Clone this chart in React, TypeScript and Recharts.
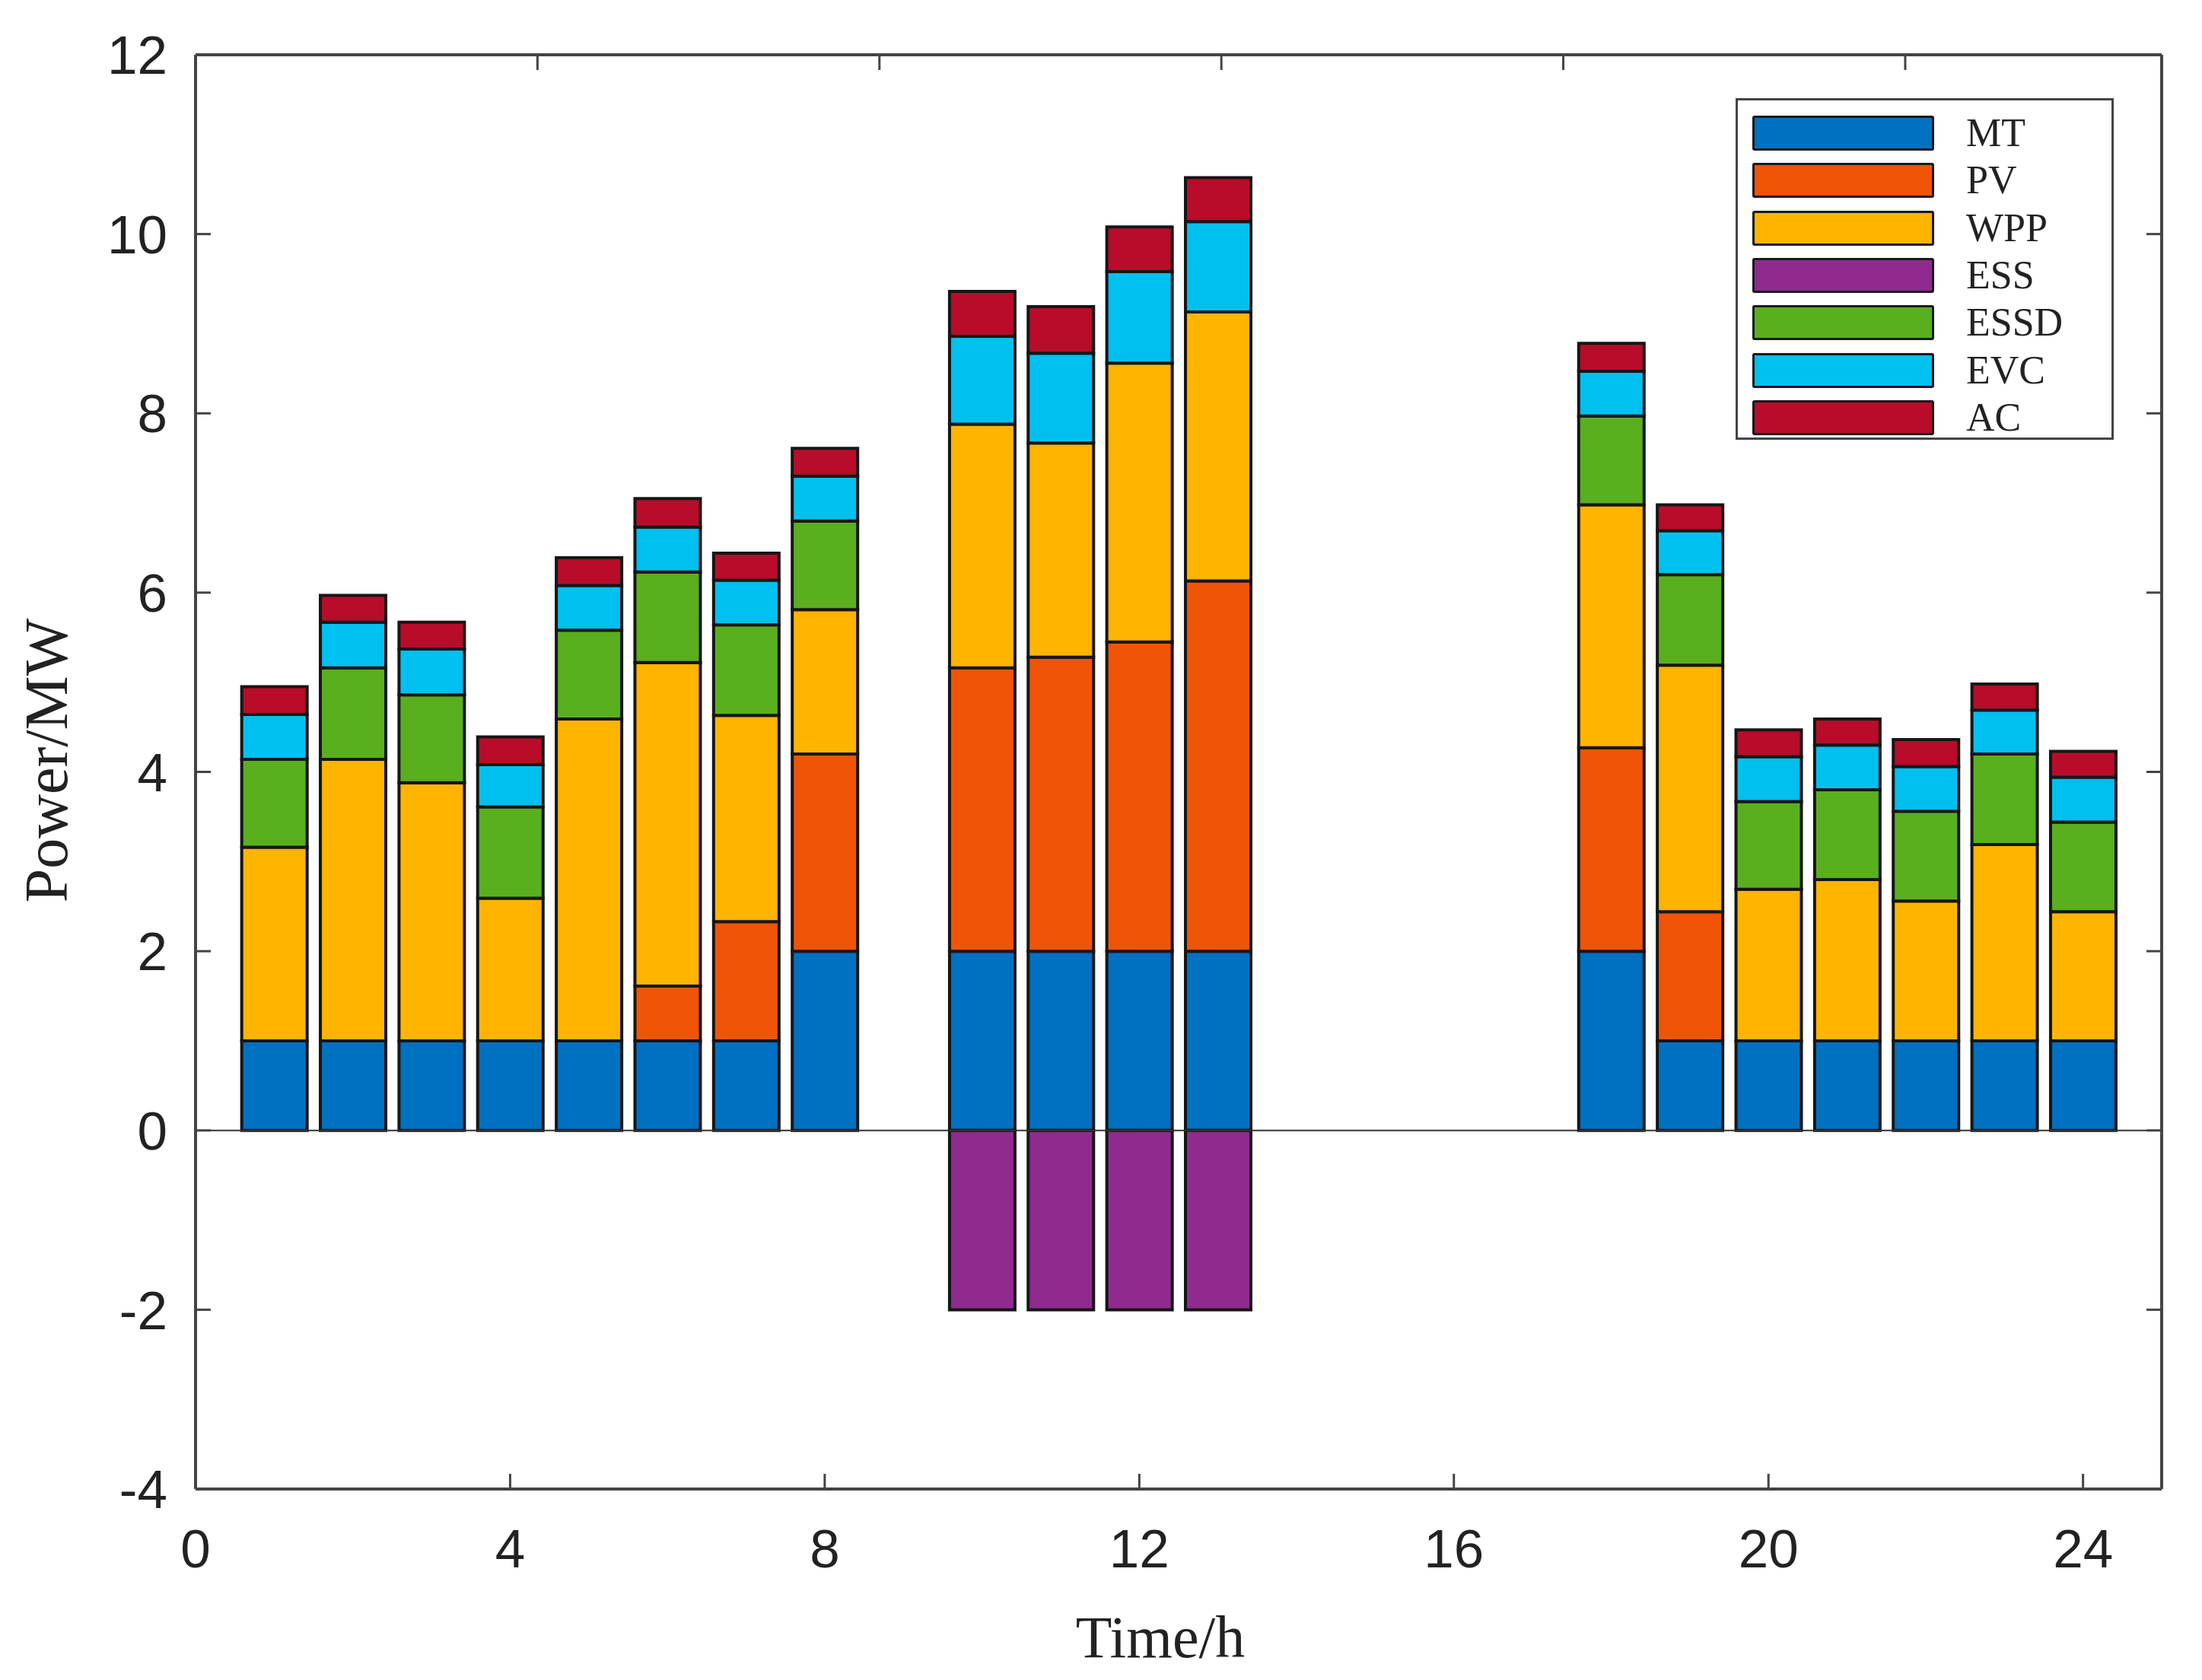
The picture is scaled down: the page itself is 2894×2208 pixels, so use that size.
import React from "react";
import { BarChart, Bar, XAxis, YAxis, ReferenceLine, Legend } from "recharts";

// hours 1..24, values in MW
const HOURS = [1, 2, 3, 4, 5, 6, 7, 8, 9, 10, 11, 12, 13, 14, 15, 16, 17, 18, 19, 20, 21, 22, 23, 24];
const MT = [1, 1, 1, 1, 1, 1, 1, 2, 0, 2, 2, 2, 2, 0, 0, 0, 0, 2, 1, 1, 1, 1, 1, 1];
const PV = [0, 0, 0, 0, 0, 0.61, 1.33, 2.2, 0, 3.16, 3.28, 3.45, 4.13, 0, 0, 0, 0, 2.27, 1.44, 0, 0, 0, 0, 0];
const WPP = [2.16, 3.14, 2.88, 1.59, 3.59, 3.61, 2.3, 1.61, 0, 2.72, 2.39, 3.11, 3.0, 0, 0, 0, 0, 2.71, 2.75, 1.69, 1.8, 1.56, 2.19, 1.44];
const ESS = [0, 0, 0, 0, 0, 0, 0, 0, 0, -2, -2, -2, -2, 0, 0, 0, 0, 0, 0, 0, 0, 0, 0, 0];
const ESSD = [0.98, 1.02, 0.98, 1.02, 0.99, 1.01, 1.01, 0.99, 0, 0, 0, 0, 0, 0, 0, 0, 0, 0.99, 1.01, 0.98, 1.0, 1.0, 1.01, 1.0];
const EVC = [0.5, 0.51, 0.51, 0.47, 0.5, 0.5, 0.5, 0.5, 0, 0.98, 1.0, 1.02, 1.01, 0, 0, 0, 0, 0.5, 0.49, 0.5, 0.5, 0.5, 0.49, 0.5];
const AC = [0.31, 0.3, 0.3, 0.31, 0.31, 0.32, 0.3, 0.31, 0, 0.5, 0.52, 0.5, 0.49, 0, 0, 0, 0, 0.31, 0.29, 0.3, 0.29, 0.3, 0.29, 0.29];

const X_TICKS = [0, 4, 8, 12, 16, 20, 24];
const Y_TICKS = [-4, -2, 0, 2, 4, 6, 8, 10, 12];

const SERIES = [
  { key: "MT", values: MT, color: "#0070C0" },
  { key: "PV", values: PV, color: "#F05406" },
  { key: "WPP", values: WPP, color: "#FFB400" },
  { key: "ESS", values: ESS, color: "#8F2B8E" },
  { key: "ESSD", values: ESSD, color: "#5AAF1E" },
  { key: "EVC", values: EVC, color: "#00C0F0" },
  { key: "AC", values: AC, color: "#B80C2A" },
];

const data = HOURS.map((h, i) => {
  const row: Record<string, number> = { hour: h };
  SERIES.forEach((s) => {
    row[s.key] = s.values[i];
  });
  return row;
});

const AXIS_COLOR = "#444";
const tickFont = { fontFamily: "'Liberation Sans', Arial, sans-serif", fontSize: 71, fill: "#222" };
const titleFont = "'Liberation Serif', 'Times New Roman', serif";
const noLabel = () => <g />;

function LegendBox() {
  return (
    <div style={{
      width: 491,
      height: 443,
      border: "3px solid #444",
      background: "#fff",
      boxSizing: "content-box",
      position: "relative",
    }}>
      {SERIES.map((s, i) => (
        <div key={s.key} style={{
          position: "absolute",
          left: 19,
          top: 20 + i * 62.3,
          height: 46,
          display: "flex",
          alignItems: "center",
        }}>
          <div style={{
            width: 233,
            height: 40,
            background: s.color,
            border: "3px solid #1a1a1a",
            borderRadius: 3,
          }} />
          <span style={{
            marginLeft: 42,
            fontFamily: titleFont,
            fontSize: 52,
            color: "#222",
            lineHeight: 1,
          }}>{s.key}</span>
        </div>
      ))}
    </div>
  );
}

export default function App() {
  return (
    <div style={{ position: "absolute", left: 0, top: 0, width: 2894, height: 2208, background: "#fff" }}>
      <BarChart
        width={2894}
        height={2208}
        data={data}
        stackOffset="sign"
        margin={{ top: 62, right: 43, bottom: 151, left: 57 }}
      >
        <XAxis
          dataKey="hour"
          type="number"
          domain={[0, 25]}
          ticks={X_TICKS}
          interval={0}
          height={100}
          tickSize={-20}
          tickMargin={73}
          tick={tickFont}
          axisLine={{ stroke: AXIS_COLOR, strokeWidth: 4 }}
          tickLine={{ stroke: AXIS_COLOR, strokeWidth: 3 }}
          allowDataOverflow
          label={{
            content: ({ viewBox }: any) => (
              <text
                x={viewBox.x + viewBox.width / 2 - 24}
                y={viewBox.y + 221}
                textAnchor="middle"
                fontFamily={titleFont}
                fontSize={78}
                fill="#222"
              >
                Time/h
              </text>
            ),
          }}
        />
        <XAxis
          xAxisId="top"
          orientation="top"
          type="number"
          domain={[0, 25]}
          ticks={X_TICKS}
          interval={0}
          height={10}
          tickSize={-20}
          tick={noLabel}
          axisLine={{ stroke: AXIS_COLOR, strokeWidth: 4 }}
          tickLine={{ stroke: AXIS_COLOR, strokeWidth: 3 }}
          allowDataOverflow
        />
        <YAxis
          type="number"
          domain={[-4, 12]}
          ticks={Y_TICKS}
          interval={0}
          width={200}
          tickSize={-20}
          tickMargin={57}
          tick={tickFont}
          axisLine={{ stroke: AXIS_COLOR, strokeWidth: 4 }}
          tickLine={{ stroke: AXIS_COLOR, strokeWidth: 3 }}
          allowDataOverflow
          label={{
            content: ({ viewBox }: any) => {
              const x = viewBox.x + 31;
              const y = viewBox.y + viewBox.height / 2 - 15;
              return (
                <text
                  x={x}
                  y={y}
                  transform={`rotate(-90, ${x}, ${y})`}
                  textAnchor="middle"
                  fontFamily={titleFont}
                  fontSize={80}
                  fill="#222"
                >
                  Power/MW
                </text>
              );
            },
          }}
        />
        <YAxis
          yAxisId="right"
          orientation="right"
          type="number"
          domain={[-4, 12]}
          ticks={Y_TICKS}
          interval={0}
          width={10}
          tickSize={-20}
          tick={noLabel}
          axisLine={{ stroke: AXIS_COLOR, strokeWidth: 4 }}
          tickLine={{ stroke: AXIS_COLOR, strokeWidth: 3 }}
          allowDataOverflow
        />
        <ReferenceLine y={0} stroke="#333" strokeWidth={2} />
        {SERIES.map((s) => (
          <Bar
            key={s.key}
            dataKey={s.key}
            name={s.key}
            stackId="p"
            fill={s.color}
            stroke="#161616"
            strokeWidth={4}
            barSize={86}
            isAnimationActive={false}
          />
        ))}
        <Legend
          layout="vertical"
          align="center"
          verticalAlign="middle"
          wrapperStyle={{ left: 2281, top: 129, width: 497, height: 449 }}
          content={() => <LegendBox />}
        />
      </BarChart>
    </div>
  );
}
